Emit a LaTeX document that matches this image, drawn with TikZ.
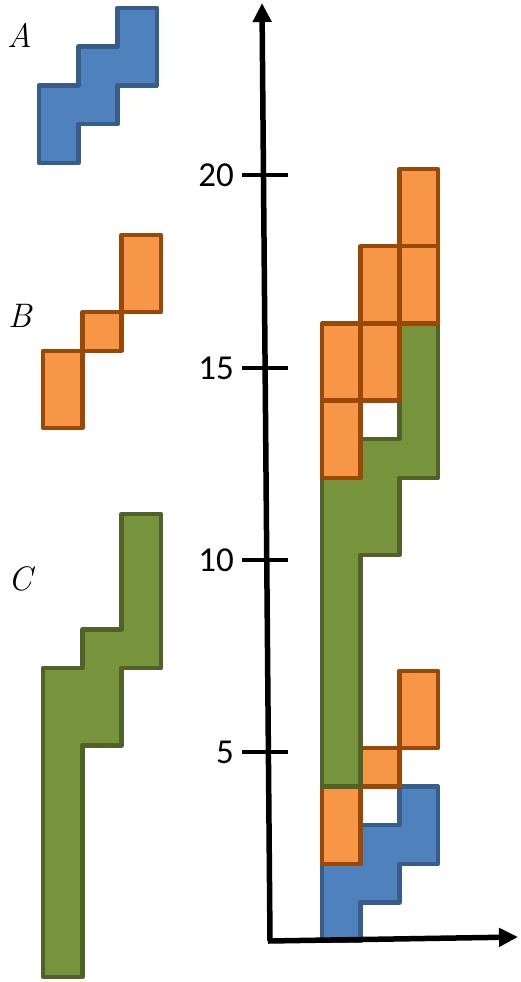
\documentclass[tikz,border=0pt]{standalone}
\usepackage{fontspec}
\setsansfont{Carlito}
\usetikzlibrary{arrows.meta}
\definecolor{blueFill}{HTML}{4F81BD}
\definecolor{blueLine}{HTML}{385D8A}
\definecolor{orangeFill}{HTML}{F79646}
\definecolor{orangeLine}{HTML}{984807}
\definecolor{greenFill}{HTML}{77933C}
\definecolor{greenLine}{HTML}{4F6228}
\tikzset{
  blockA/.style={fill=blueFill, draw=blueLine, line width=4.5pt, line join=round},
  blockB/.style={fill=orangeFill, draw=orangeLine, line width=4.5pt, line join=round},
  blockC/.style={fill=greenFill, draw=greenLine, line width=4.5pt, line join=round},
  axisline/.style={line width=5.5pt, -{Triangle[length=19pt,width=18pt]}},
  tickline/.style={line width=4.5pt},
  ticklabel/.style={font=\sffamily\fontsize{35}{40}\selectfont, anchor=east, inner sep=0pt},
  piecelabel/.style={font=\itshape\fontsize{34}{40}\selectfont, anchor=base west, inner sep=0pt}
}
\begin{document}
\begin{tikzpicture}[x=1pt, y=-1pt]
\useasboundingbox (0,0) rectangle (520,982);

% piece labels
\node[piecelabel] (la) at (7,48) {A};
\node[piecelabel] (lb) at (8,327) {B};
\node[piecelabel] (lc) at (8,590) {C};

% piece A
\begin{scope}[shift={(39,163)}, x=39.3pt, y=38.8pt]
  \draw[blockA] (0,0) -- (0,2) -- (1,2) -- (1,3) -- (2,3) -- (2,4) -- (3,4)
    -- (3,2) -- (2,2) -- (2,1) -- (1,1) -- (1,0) -- cycle;
\end{scope}

% piece B
\begin{scope}[shift={(43,428)}, x=39.3pt, y=38.6pt]
  \draw[blockB] (0,0) rectangle (1,2);
  \draw[blockB] (1,2) rectangle (2,3);
  \draw[blockB] (2,3) rectangle (3,5);
\end{scope}

% piece C
\begin{scope}[shift={(43,977)}, x=39.3pt, y=38.6pt]
  \draw[blockC] (0,0) -- (0,8) -- (1,8) -- (1,9) -- (2,9) -- (2,12) -- (3,12)
    -- (3,8) -- (2,8) -- (2,6) -- (1,6) -- (1,0) -- cycle;
\end{scope}

% stacked pieces on the axes
\begin{scope}[shift={(322,941)}, x=38.7pt, y=38.6pt]
  \draw[blockA] (0,0) -- (0,2) -- (1,2) -- (1,3) -- (2,3) -- (2,4) -- (3,4)
    -- (3,2) -- (2,2) -- (2,1) -- (1,1) -- (1,0) -- cycle;
  \draw[blockB] (0,2) rectangle (1,4);
  \draw[blockB] (1,4) rectangle (2,5);
  \draw[blockB] (2,5) rectangle (3,7);
  \draw[blockC] (0,4) -- (0,12) -- (1,12) -- (1,13) -- (2,13) -- (2,16) -- (3,16)
    -- (3,12) -- (2,12) -- (2,10) -- (1,10) -- (1,4) -- cycle;
  \draw[blockB] (0,12) rectangle (1,14);
  \draw[blockB] (0,14) rectangle (1,16);
  \draw[blockB] (1,14) rectangle (2,16);
  \draw[blockB] (1,16) rectangle (2,18);
  \draw[blockB] (2,16) rectangle (3,18);
  \draw[blockB] (2,18) rectangle (3,20);
\end{scope}

% axes
\coordinate (o) at (270,941);
\coordinate (ytop) at (262,3);
\coordinate (xo) at (268,941);
\coordinate (xend) at (518,937);
\draw[axisline] (o) -- (ytop);
\draw[axisline] (xo) -- (xend);

% ticks and their labels
\foreach \v/\yy in {20/175, 15/368, 10/560, 5/752} {
  \coordinate (t\v a) at (242,\yy);
  \coordinate (t\v b) at (288,\yy);
  \draw[tickline] (t\v a) -- (t\v b);
  \node[ticklabel] (l\v) at (234,\yy) {\v};
}
\end{tikzpicture}
\end{document}
